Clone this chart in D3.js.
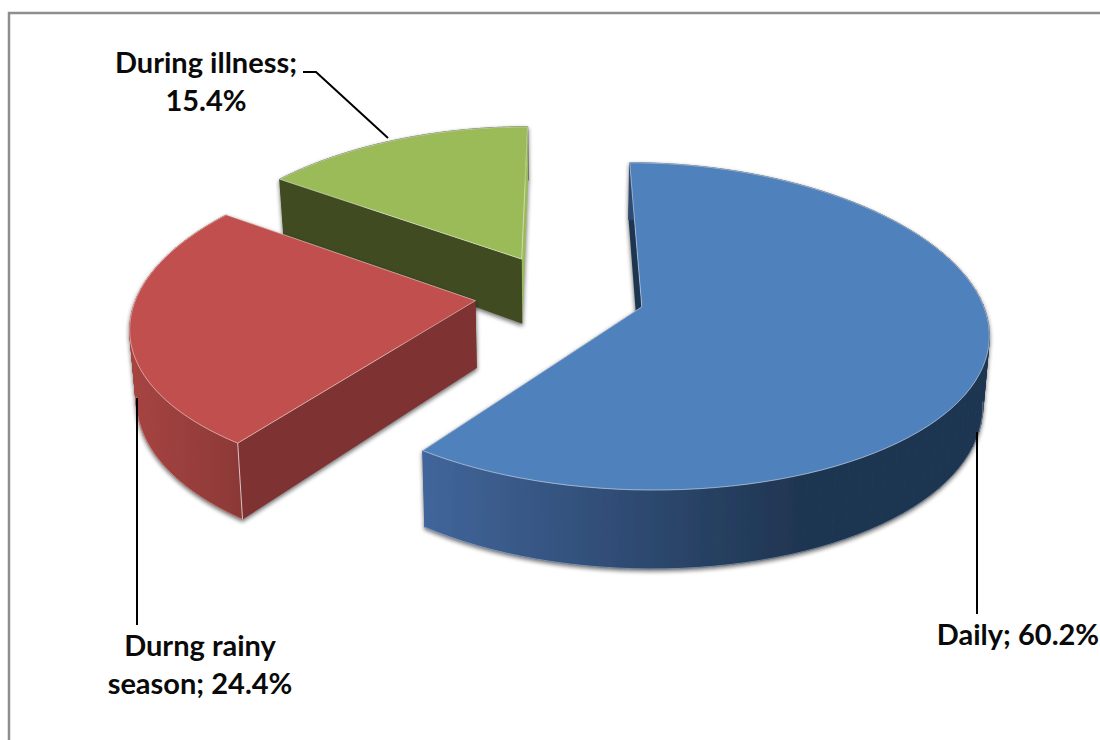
<!DOCTYPE html>
<html><head><meta charset="utf-8">
<script src="https://cdnjs.cloudflare.com/ajax/libs/d3/7.8.5/d3.min.js"></script>
<style>html,body{margin:0;padding:0;background:#fff}svg{display:block}text{font-family:Lato,"Noto Sans",sans-serif;font-weight:700;fill:#0a0a0a}</style>
</head><body><svg id="c" width="1100" height="740"></svg>
<script>
const categories = ["Daily", "Durng rainy season", "During illness"];
const values = [60.2, 24.4, 15.4];
const topColors = ["#4f81bd", "#c0504d", "#9bbb59"];
const faceColors = ["#1f3551", "#7e3230", "#3f4c22"];
const rimStops = [["#41659a", "#1f3551"], ["#a64441", "#8b3836"], ["#3f4c22", "#3f4c22"]];
const labelLines = [["Daily; 60.2%"], ["Durng rainy", "season; 24.4%"], ["During illness;", "15.4%"]];

const svg = d3.select("#c");
const W = 1100, H = 740;
const CX = 560, RX = 338, CY = 294, RY = 160.6, BOW = 19.5, PERSP = 0.15, EXPLODE = 0.252;
const xS = d3.scaleLinear().domain([-1, 1]).range([CX - RX, CX + RX]);
const yS = d3.scaleLinear().domain([-1, 1]).range([CY - RY, CY + RY]);
// perspective projection of a disc point (X right, Y toward viewer)
const project = (X, Y) => [CX + (xS(X) - CX) * (1 + PERSP * Y), yS(Y) + BOW * Y * Y];
const projectLow = (X, Y) => {
  const [x, y] = project(X, Y);
  return [CX + (x - CX) * 0.985, y + 67 + 11 * Y];
};
const line = d3.line();
const arcs = d3.pie().sort(null).startAngle(0).endAngle(2 * Math.PI)(values);

const defs = svg.append("defs");
defs.append("filter").attr("id", "blur").attr("x", "-10%").attr("y", "-10%").attr("width", "120%").attr("height", "120%")
  .append("feGaussianBlur").attr("stdDeviation", 2);
defs.append("filter").attr("id", "soft").append("feGaussianBlur").attr("stdDeviation", 0.35);

svg.append("rect").attr("width", W).attr("height", H).attr("fill", "#fff");
svg.append("path").attr("d", line([[9, H], [9, 13], [W, 13]]))
  .attr("fill", "none").attr("stroke", "#8e8e8e").attr("stroke-width", 2.5);

const rimRanges = [[425, 800], [135, 245], [270, 530]];
// back to front
[2, 1, 0].forEach(i => {
  const a = arcs[i], mid = (a.startAngle + a.endAngle) / 2;
  const ox = EXPLODE * Math.sin(mid), oy = -EXPLODE * Math.cos(mid);
  const n = 90, angs = d3.range(n + 1).map(k => a.startAngle + (a.endAngle - a.startAngle) * k / n);
  const disc = angs.map(t => [ox + Math.sin(t), oy - Math.cos(t)]);
  const apex = [ox, oy];
  const rimTop = disc.map(d => project(...d)), rimLow = disc.map(d => projectLow(...d));
  const apexTop = project(...apex), apexLow = projectLow(...apex);
  const g = svg.append("g").attr("filter", "url(#soft)");

  // the rim is a strip of quads, so that its fold at the silhouette does not cancel out
  const rimQuads = d3.range(n).map(k => [rimTop[k], rimTop[k + 1], rimLow[k + 1], rimLow[k]]);
  const face1 = [rimTop[0], rimLow[0], apexLow, apexTop];
  const face2 = [rimTop[n], rimLow[n], apexLow, apexTop];

  // soft shadow beneath the side walls
  const sh = g.append("g").attr("filter", "url(#blur)").attr("transform", "translate(0,2)").attr("opacity", 0.55);
  [...rimQuads, face1, face2].forEach(p => sh.append("path").attr("d", line(p) + "Z").attr("fill", "#000").attr("stroke", "#000").attr("stroke-width", 1));

  const gid = "rim" + i;
  const lg = defs.append("linearGradient").attr("id", gid).attr("gradientUnits", "userSpaceOnUse")
    .attr("x1", rimRanges[i][0]).attr("x2", rimRanges[i][1]).attr("y1", 0).attr("y2", 0);
  lg.append("stop").attr("offset", 0).attr("stop-color", rimStops[i][0]);
  lg.append("stop").attr("offset", 1).attr("stop-color", rimStops[i][1]);

  const drawRim = () => {
    rimQuads.forEach(p => g.append("path").attr("d", line(p) + "Z").attr("fill", `url(#${gid})`).attr("stroke", `url(#${gid})`).attr("stroke-width", 1));
    // pale highlight only along the near part of the lower rim
    const near = rimLow.filter((_, k) => disc[k][1] > 0.2);
    if (near.length > 1) g.append("path").attr("d", line(near)).attr("fill", "none").attr("stroke", "rgba(255,255,255,0.45)").attr("stroke-width", 0.8);
  };
  const drawFaces = () => {
    g.append("path").attr("d", line(face2) + "Z").attr("fill", i === 2 ? topColors[i] : faceColors[i]);
    g.append("path").attr("d", line(face1) + "Z").attr("fill", faceColors[i]);
  };
  // the largest slice's rim hides its far cut face; the others show theirs over the rim
  if (i === 0) { drawFaces(); drawRim(); } else { drawRim(); drawFaces(); }
  if (i === 1) g.append("path").attr("d", line([rimTop[0], rimLow[0]])).attr("stroke", "rgba(255,255,255,0.7)").attr("stroke-width", 1);

  g.append("path").attr("d", line(rimTop.concat([apexTop])) + "Z").attr("fill", topColors[i])
    .attr("stroke", "rgba(255,255,255,0.6)").attr("stroke-width", 0.8);
});

// leader lines
const leaders = [
  [[977, 432], [977, 614]],
  [[137, 398], [137, 625]],
  [[303, 72], [316, 72], [388, 138]]
];
leaders.forEach(p => svg.append("path").attr("d", line(p)).attr("fill", "none").attr("stroke", "#000").attr("stroke-width", 2));

// labels
const labelPos = [[1018, 645], [200, 656], [206, 73]];
labelLines.forEach((lines, i) => {
  lines.forEach((t, k) => svg.append("text").attr("x", labelPos[i][0]).attr("y", labelPos[i][1] + k * 37.5)
    .attr("text-anchor", "middle").attr("font-size", 29).text(t));
});
</script></body></html>
